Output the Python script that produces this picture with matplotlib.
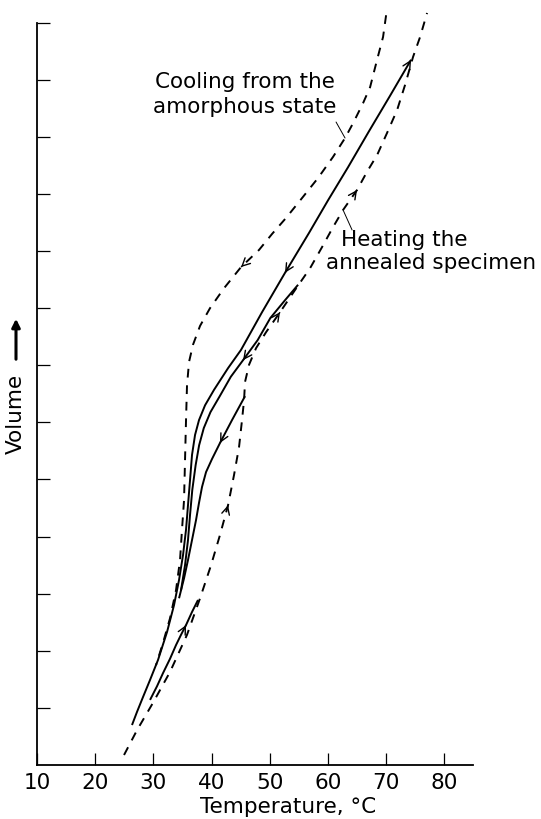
import matplotlib
matplotlib.use('Agg')
import matplotlib.pyplot as plt

plt.rcParams['font.family'] = ['DejaVu Sans']

# ---- data (temperature in degC, volume in arbitrary tick units) ----
x_ticks = [10, 20, 30, 40, 50, 60, 70, 80]
y_ticks = list(range(1, 14))

# dashed: cooling from the amorphous state (travels downward)
cool_amorph_T = [69.97, 69.45, 68.42, 67.22, 66.01, 64.30, 62.92, 60.86, 58.28, 55.70,
                 52.78, 50.38, 48.14, 45.05, 42.13, 39.72, 38.01, 36.80, 36.12, 35.77,
                 35.60, 35.43, 35.26, 34.91, 34.57, 33.88, 32.85, 31.65, 30.45]
cool_amorph_V = [13.13, 12.75, 12.35, 11.87, 11.59, 11.24, 10.98, 10.65, 10.28, 9.95,
                 9.58, 9.30, 9.02, 8.72, 8.35, 8.00, 7.69, 7.36, 7.06, 6.65,
                 6.04, 5.34, 4.64, 4.12, 3.59, 3.06, 2.57, 2.14, 1.75]

# dashed: heating the annealed specimen (travels upward)
heat_ann_T = [24.95, 27.18, 29.93, 32.85, 35.77, 38.01, 39.90, 41.44, 42.82, 43.85, 44.71,
              45.22, 45.57, 45.74, 46.43, 47.63, 49.35, 51.75, 54.67, 56.91, 58.97, 60.86,
              62.58, 64.98, 66.70, 68.42, 70.14, 71.86, 73.23, 74.60, 75.81, 77.01]
heat_ann_V = [0.175, 0.61, 1.09, 1.63, 2.28, 2.92, 3.50, 4.03, 4.55, 5.08, 5.57,
              6.04, 6.39, 6.71, 7.01, 7.30, 7.58, 7.93, 8.37, 8.70, 9.07, 9.42,
              9.72, 10.07, 10.39, 10.68, 11.07, 11.47, 11.91, 12.40, 12.75, 13.17]

# solid: long cooling curve
solid_long_T = [74.26, 70.65, 67.04, 63.44, 60.00, 56.74, 52.61, 48.66, 45.05, 42.82, 40.41,
                38.87, 37.83, 37.15, 36.63, 36.29, 35.94, 35.60, 35.09, 34.40, 33.54,
                32.34, 30.79, 29.42, 28.21, 27.18, 26.32]
solid_long_V = [12.35, 11.72, 11.10, 10.47, 9.89, 9.32, 8.62, 7.93, 7.27, 6.95, 6.57,
                6.30, 6.04, 5.78, 5.43, 4.99, 4.55, 4.12, 3.68, 3.24, 2.80,
                2.33, 1.84, 1.49, 1.19, 0.93, 0.70]

# solid: second cooling curve (from about 55 degC)
solid_mid_T = [54.85, 52.61, 50.10, 47.90, 45.40, 43.30, 41.40, 39.80, 38.65, 37.85,
               37.25, 36.68, 36.29, 35.94, 35.43, 34.74]
solid_mid_V = [8.41, 8.14, 7.83, 7.44, 7.09, 6.80, 6.46, 6.18, 5.90, 5.60,
               5.25, 4.82, 4.38, 3.94, 3.50, 3.06]

# solid: short cooling curve (from about 46 degC)
solid_short_T = [45.74, 43.50, 41.44, 40.07, 39.04, 38.35, 37.83, 37.32, 36.63, 35.94, 35.26, 34.40]
solid_short_V = [6.46, 6.04, 5.64, 5.36, 5.13, 4.87, 4.59, 4.29, 3.94, 3.59, 3.27, 2.92]

# solid: low heating segment
solid_low_T = [29.42, 30.62, 31.65, 32.85, 33.88, 34.74, 35.60, 36.63, 37.66]
solid_low_V = [1.14, 1.38, 1.61, 1.86, 2.10, 2.28, 2.45, 2.68, 2.89]

# ---- figure ----
W, H = 541, 819
fig = plt.figure(figsize=(W / 100, H / 100), dpi=100)
ax = fig.add_axes([37 / W, 1 - 765 / H, 436 / W, (765 - 8.4) / H])
ax.set_xlim(10, 84.9)
ax.set_ylim(0, 13.25)

lw = 1.4
dash = (0, (4.5, 4))
curves = [
    (cool_amorph_T, cool_amorph_V, dash, [(13, 12)]),
    (heat_ann_T, heat_ann_V, dash, [(8, 7), (17, 16), (23, 22)]),
    (solid_long_T, solid_long_V, '-', [(6, 5), (0, 1)]),
    (solid_mid_T, solid_mid_V, '-', [(4, 3)]),
    (solid_short_T, solid_short_V, '-', [(2, 1)]),
    (solid_low_T, solid_low_V, '-', [(6, 5)]),
]
for T, V, ls, arrows in curves:
    ax.plot(T, V, color='black', lw=lw, linestyle=ls, solid_capstyle='butt',
            solid_joinstyle='round')
    for i, j in arrows:
        # arrowhead at point i, pointing away from point j
        xi, yi = T[i], V[i]
        xj, yj = T[j], V[j]
        tx = xi - (xi - xj) * 0.02
        ty = yi - (yi - yj) * 0.02
        ax.annotate('', xy=(xi, yi), xytext=(tx, ty),
                    arrowprops=dict(arrowstyle='->', color='black', lw=1.0,
                                    mutation_scale=14, shrinkA=0, shrinkB=0))

# annotations
fs = 15.5
ax.text(30.3, 11.96, 'Cooling from the', fontsize=fs, ha='left', va='center')
ax.text(30.0, 11.52, 'amorphous state', fontsize=fs, ha='left', va='center')
ax.annotate('', xy=(cool_amorph_T[6], cool_amorph_V[6]), xytext=(-9, 16),
            textcoords='offset pixels',
            arrowprops=dict(arrowstyle='-', color='black', lw=0.7, shrinkA=0, shrinkB=0))
ax.text(62.23, 9.19, 'Heating the', fontsize=fs, ha='left', va='center')
ax.text(59.66, 8.79, 'annealed specimen', fontsize=fs, ha='left', va='center')
ax.annotate('', xy=(heat_ann_T[22], heat_ann_V[22]), xytext=(9, -20),
            textcoords='offset pixels',
            arrowprops=dict(arrowstyle='-', color='black', lw=0.7, shrinkA=0, shrinkB=0))

# axes styling
for s in ['top', 'right']:
    ax.spines[s].set_visible(False)
ax.spines['left'].set_bounds(0, 13)
ax.spines['left'].set_linewidth(1.3)
ax.spines['bottom'].set_linewidth(1.3)
ax.set_xticks(x_ticks)
ax.set_xticklabels([str(v) for v in x_ticks], fontsize=fs)
ax.set_yticks(y_ticks)
ax.set_yticklabels([])
ax.tick_params(axis='x', direction='in', length=9, width=0.9, pad=6)
ax.tick_params(axis='y', direction='in', length=9, width=0.9)

fig.text(288 / W, 1 - 807 / H, 'Temperature, °C', fontsize=fs, ha='center', va='center')
fig.text(16 / W, 1 - 414 / H, 'Volume', fontsize=fs, ha='center', va='center', rotation=90)
fig.patches.append(matplotlib.patches.FancyArrowPatch(
    (16 / W, 1 - 362 / H), (16 / W, 1 - 316 / H), transform=fig.transFigure,
    arrowstyle='-|>', mutation_scale=12, lw=2.2, color='black'))

fig.savefig('out.png', dpi=100)
